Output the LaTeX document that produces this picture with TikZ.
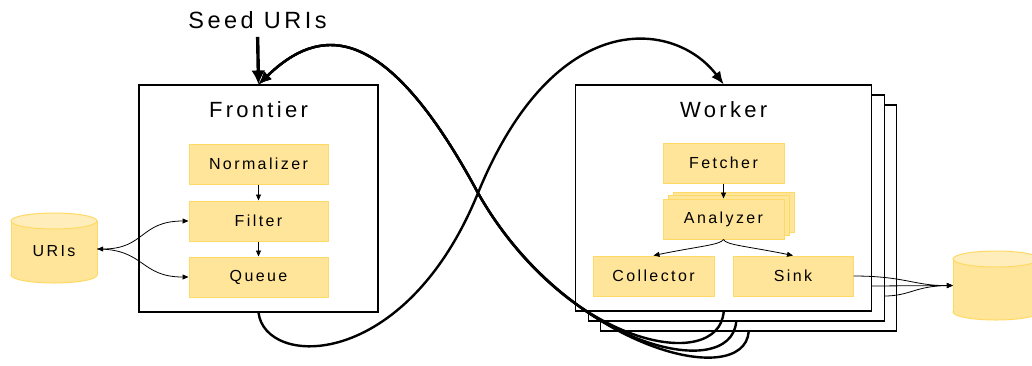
\documentclass[tikz,border=0pt]{standalone}
\usepackage{fontspec}
\setmainfont{Liberation Sans}[LetterSpace=15]
\usetikzlibrary{arrows.meta,calc}
\definecolor{boxfill}{RGB}{255,229,153}
\definecolor{boxline}{RGB}{255,217,102}
\definecolor{cylend}{RGB}{255,238,187}
\begin{document}
\begin{tikzpicture}[x=1pt,y=-1pt,
  frame/.style={draw=black,line width=1.1pt,fill=white,inner sep=0pt},
  ybox/.style={draw=boxline,line width=1pt,fill=boxfill,inner sep=0pt,minimum height=40pt,font=\fontsize{16}{19}\selectfont},
  title/.style={inner sep=0pt,font=\fontsize{22}{26}\selectfont},
  dbtext/.style={inner sep=0pt,minimum width=86pt,minimum height=70pt,font=\fontsize{16}{19}\selectfont},
  dbline/.style={draw=boxline,line width=1pt},
  smallarrow/.style={-{Triangle[length=6pt,width=5pt]},line width=0.8pt},
  bigloop/.style={line width=2.4pt,-{Latex[length=13pt,width=11pt]}},
  seedarrow/.style={line width=3.4pt,-{Latex[length=14pt,width=14pt]}}]
\useasboundingbox (0,0) rectangle (1032,365);
\clip (0,0) rectangle (1032,365);

% Frontier
\node[frame,minimum width=239pt,minimum height=227pt] (frontier) at (258.5,198.5) {};
\node[title] (ftitle) at (258.5,110) {Frontier};
\node[ybox,minimum width=139pt] (normalizer) at (258.5,164) {Normalizer};
\node[ybox,minimum width=139pt] (filter) at (258.5,221) {Filter};
\node[ybox,minimum width=139pt] (queue) at (258.5,277) {Queue};
\node[title,font=\fontsize{23.5}{27}\selectfont] (seed) at (257.5,20) {Seed URIs};

% URIs store (cylinder drawn by hand)
\fill[boxfill] (54,275) ellipse [x radius=43, y radius=8];
\draw[dbline] (54,275) ellipse [x radius=43, y radius=8];
\fill[boxfill] (11,221) rectangle (97,275);
\draw[dbline] (11,221) -- (11,275) (97,221) -- (97,275);
\draw[dbline,fill=cylend] (54,221) ellipse [x radius=43, y radius=8];
\node[dbtext] (uris) at (54,251) {URIs};

% Workers
\node[frame,minimum width=296pt,minimum height=226pt] (w3) at (748.7,218) {};
\node[frame,minimum width=296pt,minimum height=226pt] (w2) at (736.2,208) {};
\node[frame,minimum width=296pt,minimum height=226pt] (w1) at (723.7,198) {};
\node[title] (wtitle) at (723.7,110) {Worker};
\node[ybox,minimum width=121pt] (fetcher) at (723.5,163) {Fetcher};
\node[ybox,minimum width=121pt] (an3) at (733.5,212) {};
\node[ybox,minimum width=121pt] (an2) at (728.5,215.5) {};
\node[ybox,minimum width=121pt] (analyzer) at (723.5,219) {Analyzer};
\node[ybox,minimum width=121pt] (collector) at (653.5,276) {Collector};
\node[ybox,minimum width=120pt] (sink) at (793,276) {Sink};

% output store (cylinder drawn by hand)
\fill[boxfill] (996,312) ellipse [x radius=43, y radius=8];
\draw[dbline] (996,312) ellipse [x radius=43, y radius=8];
\fill[boxfill] (953,259) rectangle (1039,312);
\draw[dbline] (953,259) -- (953,312) (1039,259) -- (1039,312);
\draw[dbline,fill=cylend] (996,259) ellipse [x radius=43, y radius=8];
\node[dbtext,minimum height=69pt] (store) at (996,285.5) {};

% inner arrows
\draw[smallarrow] (normalizer) -- (filter);
\draw[smallarrow] (filter) -- (queue);
\draw[smallarrow] (fetcher) -- (analyzer);
\draw[smallarrow] (analyzer.south) .. controls (720,245) and (700,246) .. (collector.north);
\draw[smallarrow] (analyzer.south) .. controls (726,245) and (746,246) .. (sink.north);
\draw[smallarrow,{Triangle[length=6pt,width=5pt]}-{Triangle[length=6pt,width=5pt]}] ($(uris.east)+(0,-2)$) .. controls (145,249) and (140,221) .. (filter.west);
\draw[smallarrow] ($(uris.east)+(0,-2)$) .. controls (145,249) and (140,277) .. (queue.west);

% sink to store
\coordinate (s2) at (871.7,286);
\coordinate (s3) at (884.2,296);
\draw[smallarrow] (sink.east) .. controls (905,276) and (915,286) .. (store.west);
\draw[smallarrow] (s2) -- (store.west);
\draw[smallarrow] (s3) .. controls (910,296) and (915,286) .. (store.west);

% seed
\draw[seedarrow,shorten <=8pt] (seed.south) -- (frontier.north);

% big loops
\coordinate (cross) at (478,193);
\draw[bigloop] (frontier.south) .. controls (265,368) and (405,372) .. (cross)
  .. controls (555,5) and (675,20) .. (w1.north);
\draw[bigloop] (w3.south) .. controls (744,392) and (566,348) .. (cross)
  .. controls (385,20) and (320,25) .. (frontier.north);
\draw[bigloop] (w2.south) .. controls (731,384) and (566,348) .. (cross)
  .. controls (385,20) and (320,25) .. (frontier.north);
\draw[bigloop] (w1.south) .. controls (719,374) and (566,348) .. (cross)
  .. controls (385,20) and (320,25) .. (frontier.north);
\end{tikzpicture}
\end{document}
